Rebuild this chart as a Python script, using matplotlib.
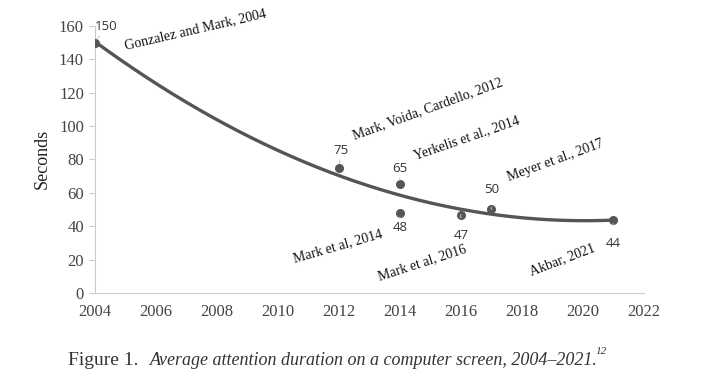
import numpy as np
import matplotlib.pyplot as plt

# --- Data ---
years = [2004, 2012, 2014, 2014, 2016, 2017, 2021]
seconds = [150, 75, 65, 48, 47, 50, 44]
studies = ["Gonzalez and Mark, 2004", "Mark, Voida, Cardello, 2012",
           "Yerkelis et al., 2014", "Mark et al, 2014", "Mark et al, 2016",
           "Meyer et al., 2017", "Akbar, 2021"]

# label offsets (pixels): value label, study label, study rotation
value_off = [(11, 16), (2, 17), (0, 16), (0, -15), (0, -21), (0, 20), (0, -24)]
study_off = [(31, -10), (17, 26), (17, 22), (-105, -52), (-80, -69), (19, 25), (-81, -59)]
study_rot = [13, 20, 19, 16, 18, 20, 21]

dark = "#555555"
serif = ["Liberation Serif", "DejaVu Serif"]

fig = plt.figure(figsize=(7.2, 3.8), dpi=100)
ax = fig.add_axes([0.132, 0.229, 0.762, 0.703])

# trend line (2nd order polynomial, like a spreadsheet trendline)
coef = np.polyfit(years, seconds, 2)
xs = np.linspace(2004, 2021, 200)
ax.plot(xs, np.polyval(coef, xs), color=dark, lw=2.4, zorder=2)
ax.scatter(years, seconds, s=30, color=dark, zorder=3)

for i in range(len(years)):
    ax.annotate(str(seconds[i]), (years[i], seconds[i]), xytext=value_off[i],
                textcoords="offset pixels", ha="center", va="center",
                fontsize=9.5, family="Open Sans", color="#333333",
                arrowprops=dict(arrowstyle="-", color="#c8c8c8", lw=0.7,
                                shrinkA=6, shrinkB=3))
    ax.annotate(studies[i], (years[i], seconds[i]), xytext=study_off[i],
                textcoords="offset pixels", ha="left", va="bottom",
                rotation=study_rot[i], rotation_mode="anchor",
                fontsize=10, family=serif, color="#111111")

ax.set_xlim(2004, 2022)
ax.set_ylim(0, 160)
ax.set_xticks(range(2004, 2023, 2))
ax.set_yticks(range(0, 161, 20))
for lab in ax.get_xticklabels() + ax.get_yticklabels():
    lab.set_family(serif)
    lab.set_fontsize(12)
    lab.set_color("#444444")
ax.tick_params(axis="y", length=4, color="#cccccc", pad=4)
ax.tick_params(axis="x", length=0, pad=8)
for s in ["top", "right"]:
    ax.spines[s].set_visible(False)
for s in ["left", "bottom"]:
    ax.spines[s].set_color("#cccccc")
ax.set_ylabel("Seconds", family=serif, fontsize=13, color="#222222", labelpad=6)

fig.text(0.094, 0.04, "Figure 1.", family=serif, fontsize=14, color="#333333")
fig.text(0.208, 0.04, "Average attention duration on a computer screen, 2004\u20132021.",
         family=serif, style="italic", fontsize=13, color="#333333")
fig.text(0.827, 0.068, "12", family=serif, style="italic", fontsize=8, color="#333333")

fig.savefig("out.png", dpi=100)
